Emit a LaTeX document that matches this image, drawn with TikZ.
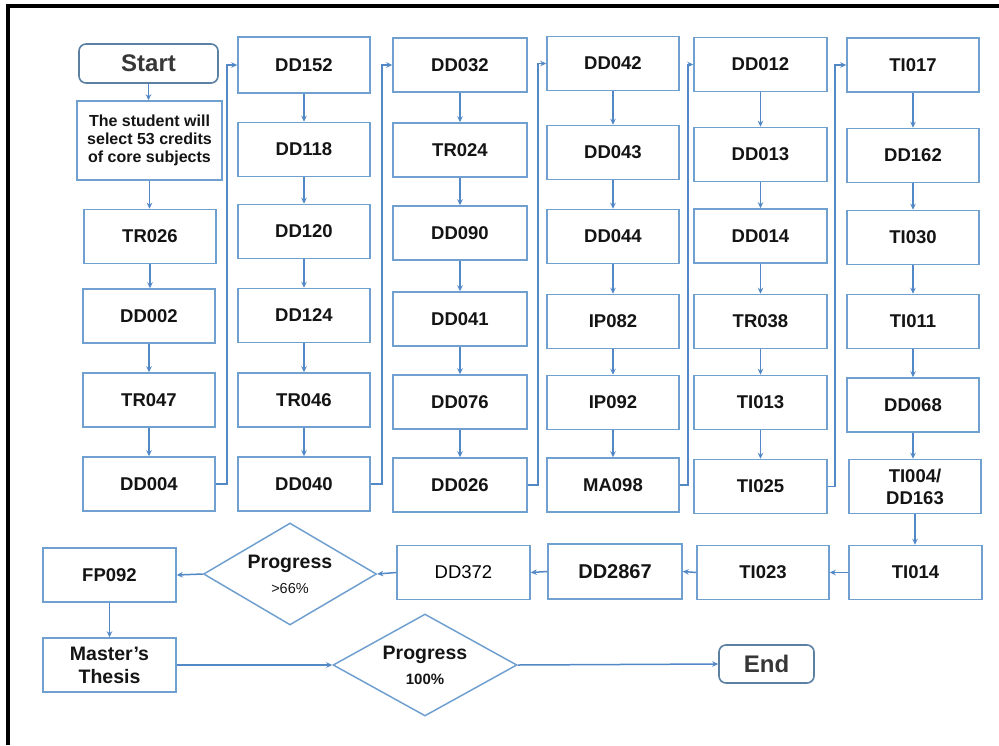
\documentclass[tikz,border=0pt]{standalone}
\usepackage{fontspec}
\setmainfont{Liberation Sans}
\usetikzlibrary{shapes.geometric,arrows.meta}
\definecolor{boxblue}{RGB}{112,160,208}
\definecolor{lineblue}{RGB}{82,136,198}
\definecolor{roundblue}{RGB}{92,128,162}
\definecolor{txt}{RGB}{20,20,20}
\begin{document}
\begin{tikzpicture}[x=1pt,y=-1pt,
  box/.style={draw=boxblue,line width=1.5pt,fill=white,inner sep=0pt,align=center,text=txt,
    minimum height=54pt,font=\bfseries\fontsize{18.5}{22}\selectfont},
  cola/.style={box,minimum width=132pt},
  colb/.style={box,minimum width=132pt},
  colc/.style={box,minimum width=134pt},
  cold/.style={box,minimum width=132pt},
  cole/.style={box,minimum width=133pt},
  colf/.style={box,minimum width=132pt},
  endbox/.style={draw=roundblue,line width=1.6pt,rounded corners=7pt,fill=white,inner sep=0pt,
    text=txt!85,font=\bfseries\fontsize{24}{28}\selectfont},
  dia/.style={draw=boxblue,line width=1.5pt,shape=diamond,aspect=1.7,inner sep=-6pt,align=center,text=txt,
    font=\fontsize{19.5}{25}\selectfont},
  arr/.style={draw=lineblue,line width=1.5pt,-{Stealth[length=6pt,width=5.5pt]}},
  frame/.style={draw=black,line width=3.5pt}
]
\useasboundingbox (0,0) rectangle (999,745);
\draw[frame] (7.75,745) -- (7.75,5.75) -- (999,5.75);

% column 1
\node[endbox,minimum width=139pt,minimum height=39pt] (start) at (148.5,63.5) {Start};
\node[box,minimum width=145pt,minimum height=79pt,font=\bfseries\fontsize{16}{18}\selectfont] (student) at (149.5,140.5)
  {The student will\\select 53 credits\\of core subjects};
\node[cola] (tr026) at (150,236.5) {TR026};
\node[cola] (dd002) at (149,316) {DD002};
\node[cola] (tr047) at (149,400) {TR047};
\node[cola] (dd004) at (149,484) {DD004};

% column 2
\node[colb,minimum height=56pt] (dd152) at (304,65) {DD152};
\node[colb] (dd118) at (304,149.5) {DD118};
\node[colb] (dd120) at (304,231.5) {DD120};
\node[colb] (dd124) at (304,315.5) {DD124};
\node[colb] (tr046) at (304,400) {TR046};
\node[colb] (dd040) at (304,484) {DD040};

% column 3
\node[colc] (dd032) at (460,65) {DD032};
\node[colc] (tr024) at (460,150) {TR024};
\node[colc] (dd090) at (460,233) {DD090};
\node[colc] (dd041) at (460,319) {DD041};
\node[colc] (dd076) at (460,402) {DD076};
\node[colc] (dd026) at (460,485) {DD026};

% column 4
\node[cold] (dd042) at (613,63.5) {DD042};
\node[cold] (dd043) at (613,152.5) {DD043};
\node[cold] (dd044) at (613,236.5) {DD044};
\node[cold] (ip082) at (613,321.5) {IP082};
\node[cold] (ip092) at (613,402.5) {IP092};
\node[cold] (ma098) at (613,485) {MA098};

% column 5
\node[cole] (dd012) at (760.5,64.5) {DD012};
\node[cole] (dd013) at (760.5,154.5) {DD013};
\node[cole] (dd014) at (760.5,236) {DD014};
\node[cole] (tr038) at (760.5,321.5) {TR038};
\node[cole] (ti013) at (760.5,402.5) {TI013};
\node[cole] (ti025) at (760.5,486.5) {TI025};

% column 6
\node[colf] (ti017) at (913,65) {TI017};
\node[colf] (dd162) at (913,155.5) {DD162};
\node[colf] (ti030) at (913,237.5) {TI030};
\node[colf] (ti011) at (913,321.5) {TI011};
\node[colf] (dd068) at (913,405) {DD068};
\node[colf] (ti004) at (915,486.5) {TI004/\\DD163};

% bottom row
\node[box,minimum width=133pt] (ti014) at (915.5,572.5) {TI014};
\node[box,minimum width=132pt] (ti023) at (763,572.5) {TI023};
\node[box,minimum width=134pt,minimum height=55pt,font=\bfseries\fontsize{20}{24}\selectfont] (dd2867) at (615,571.5) {DD2867};
\node[box,minimum width=133pt,text=black,font=\fontsize{18.5}{22}\selectfont] (dd372) at (463.5,572.5) {DD372};
\node[dia,minimum width=173pt,minimum height=102pt] (d1) at (290,574)
  {\textbf{Progress}\\{\fontsize{14.5}{17}\selectfont >66\%}};
\node[box,minimum width=133pt] (fp092) at (109.5,575) {FP092};
\node[box,minimum width=133pt,font=\bfseries\fontsize{19.5}{23}\selectfont] (thesis) at (109.5,665) {Master's\\Thesis};
\node[dia,minimum width=184pt,minimum height=102pt] (d2) at (425,665)
  {\textbf{Progress}\\{\bfseries\fontsize{15}{17}\selectfont 100\%}};
\node[endbox,minimum width=95pt,minimum height=38pt] (end) at (766.5,664) {End};

% vertical arrows
\foreach \a/\b in {start/student,student/tr026,tr026/dd002,dd002/tr047,tr047/dd004,
  dd152/dd118,dd118/dd120,dd120/dd124,dd124/tr046,tr046/dd040,
  dd032/tr024,tr024/dd090,dd090/dd041,dd041/dd076,dd076/dd026,
  dd042/dd043,dd043/dd044,dd044/ip082,ip082/ip092,ip092/ma098,
  dd012/dd013,dd013/dd014,dd014/tr038,tr038/ti013,ti013/ti025,
  ti017/dd162,dd162/ti030,ti030/ti011,ti011/dd068,dd068/ti004,ti004/ti014,
  fp092/thesis}
  \draw[arr] (\a.south) -- (\a.south |- \b.north);

% column links
\draw[arr] (dd004.east) -- ++(11,0) |- (dd152.west);
\draw[arr] (dd040.east) -- ++(11,0) |- (dd032.west);
\draw[arr] (dd026.east) -- ++(10,0) |- (dd042.west);
\draw[arr] (ma098.east) -- ++(8,0) |- (dd012.west);
\draw[arr] (ti025.east) -- ++(7,0) |- (ti017.west);

% bottom flow
\draw[arr] (ti014.west) -- (ti023.east);
\draw[arr] (ti023.west) -- (dd2867.east);
\draw[arr] (dd2867.west) -- (dd372.east);
\draw[arr] (dd372.west) -- (d1.east);
\draw[arr] (d1.west) -- (fp092.east);
\draw[arr] (thesis.east) -- (d2.west);
\draw[arr] (d2.east) -- (end.west);
\end{tikzpicture}
\end{document}
